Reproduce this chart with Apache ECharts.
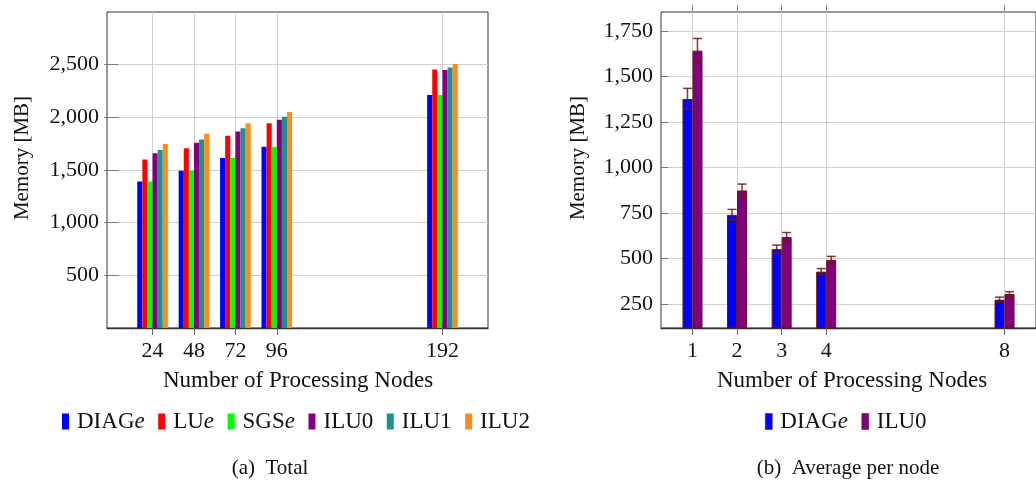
<!DOCTYPE html>
<html>
<head>
<meta charset="utf-8">
<script src="https://cdn.jsdelivr.net/npm/echarts@6/dist/echarts.min.js"></script>
<style>
html,body{margin:0;padding:0;background:#fff;}
#c{width:1036px;height:488px;}
</style>
</head>
<body>
<div id="c"></div>
<script>
// ---- data (a) Total ----
const nodes = [24, 48, 72, 96, 192];
const seriesNames = ['DIAGe', 'LUe', 'SGSe', 'ILU0', 'ILU1', 'ILU2'];
const diagE = [1390, 1494, 1615, 1720, 2211];
const luE   = [1599, 1707, 1826, 1945, 2454];
const sgsE  = [1390, 1494, 1615, 1720, 2211];
const ilu0  = [1660, 1758, 1865, 1977, 2449];
const ilu1  = [1691, 1789, 1897, 2005, 2473];
const ilu2  = [1748, 1843, 1945, 2050, 2506];
const totalTicks = [500, 1000, 1500, 2000, 2500];

// ---- data (b) Average per node ----
const avgNodes = [1, 2, 3, 4, 8];
const avgDiagE = [1377, 740, 552, 428, 274];
const avgDiagEErr = [58, 30, 22, 17, 14];
const avgIlu0 = [1642, 874, 618, 492, 305];
const avgIlu0Err = [67, 35, 25, 20, 13];
const avgTicks = [250, 500, 750, 1000, 1250, 1500, 1750];

// ---- styles ----
const FONT = 'Liberation Serif';
const colors = ['#0000ff', '#ff0000', '#00ff00', '#800080', '#208f8f', '#ff8c1a'];
const totalValues = [diagE, luE, sgsE, ilu0, ilu1, ilu2];
const gridColor = '#cfcfcf';
const frameColor = '#333';
const errColor = '#6e1414';

const fmt = v => String(v).replace(/\B(?=(\d{3})+(?!\d))/g, ',');

function legendFormatter(name) {
  const n = name.trim();
  if (n.endsWith('e')) return '{n|' + n.slice(0, -1) + '}{i|e}';
  return '{n|' + n + '}';
}
const legendText = {
  color: '#111', fontFamily: FONT, fontSize: 23, padding: [0, 0, 0, 3],
  rich: {
    n: {fontFamily: FONT, fontSize: 23, color: '#111'},
    i: {fontFamily: FONT, fontSize: 23, fontStyle: 'italic', color: '#111'}
  }
};

function bottomX(gridIndex, min, max, ticks) {
  return {
    type: 'value', gridIndex, min, max, position: 'bottom',
    axisLine: {show: true, onZero: false, lineStyle: {color: frameColor, width: 1.3}},
    axisTick: {show: true, inside: false, length: 7, customValues: ticks, lineStyle: {color: '#666'}},
    axisLabel: {show: true, customValues: ticks, margin: 12, color: '#111', fontFamily: FONT, fontSize: 22},
    splitLine: {show: true, lineStyle: {color: gridColor, width: 1}}
  };
}
function topX(gridIndex, min, max, ticks) {
  return {
    type: 'value', gridIndex, min, max, position: 'top',
    axisLine: {show: false},
    axisTick: {show: true, inside: false, length: 7, customValues: ticks, lineStyle: {color: '#888'}},
    axisLabel: {show: false},
    splitLine: {show: false}
  };
}
function leftY(gridIndex, min, max, ticks) {
  return {
    type: 'value', gridIndex, min, max, position: 'left',
    axisLine: {show: false},
    axisTick: {show: true, inside: true, length: 7, customValues: ticks, lineStyle: {color: '#777'}},
    axisLabel: {show: true, customValues: ticks, margin: 8, color: '#111', fontFamily: FONT, fontSize: 22,
      formatter: v => fmt(v)},
    splitLine: {show: true, lineStyle: {color: gridColor, width: 1}}
  };
}

const series = [];
seriesNames.forEach((name, i) => {
  series.push({
    name, type: 'bar', xAxisIndex: 0, yAxisIndex: 0,
    barWidth: 5.1, barGap: '0%',
    itemStyle: {color: colors[i]},
    data: nodes.map((x, k) => [x, totalValues[i][k]])
  });
});

const avgSets = [
  {name: 'DIAGe ', vals: avgDiagE, err: avgDiagEErr, color: '#0000ff', off: -5},
  {name: 'ILU0 ', vals: avgIlu0, err: avgIlu0Err, color: '#800080', off: 5}
];
avgSets.forEach(s => {
  series.push({
    name: s.name, type: 'bar', xAxisIndex: 2, yAxisIndex: 2,
    barWidth: 10, barGap: '0%',
    itemStyle: {color: s.color, borderColor: '#6b1010', borderWidth: 1},
    data: avgNodes.map((x, k) => [x, s.vals[k]])
  });
});
avgSets.forEach(s => {
  series.push({
    type: 'custom', xAxisIndex: 2, yAxisIndex: 2, z: 5, silent: true,
    renderItem: (params, api) => {
      const x = api.value(0), lo = api.value(1), hi = api.value(2);
      const pLo = api.coord([x, lo]);
      const pHi = api.coord([x, hi]);
      const cx = pLo[0] + s.off;
      const st = {stroke: errColor, lineWidth: 1.5, opacity: 0.85};
      return {type: 'group', children: [
        {type: 'line', shape: {x1: cx, y1: pHi[1], x2: cx, y2: pLo[1]}, style: st},
        {type: 'line', shape: {x1: cx - 4.5, y1: pHi[1], x2: cx + 4.5, y2: pHi[1]}, style: st},
        {type: 'line', shape: {x1: cx - 4.5, y1: pLo[1], x2: cx + 4.5, y2: pLo[1]}, style: st}
      ]};
    },
    data: avgNodes.map((x, k) => [x, s.vals[k] - s.err[k], s.vals[k] + s.err[k]])
  });
});

const option = {
  backgroundColor: '#fff',
  animation: false,
  grid: [
    {left: 107, top: 12, width: 381, height: 316, show: true, borderColor: frameColor, borderWidth: 1, backgroundColor: 'transparent'},
    {left: 661, top: 12, width: 382, height: 316, show: true, borderColor: frameColor, borderWidth: 1, backgroundColor: 'transparent'}
  ],
  xAxis: [
    bottomX(0, -2.4, 218.4, nodes),
    topX(0, -2.4, 218.4, nodes),
    bottomX(1, 0.294, 8.706, avgNodes),
    topX(1, 0.294, 8.706, avgNodes)
  ],
  yAxis: [
    leftY(0, 0, 3000, totalTicks),
    {type: 'value', gridIndex: 0, min: 0, max: 3000, position: 'right',
      axisLine: {show: false}, axisLabel: {show: false}, splitLine: {show: false},
      axisTick: {show: true, inside: true, length: 7, customValues: totalTicks, lineStyle: {color: '#777'}}},
    leftY(1, 118.5, 1854.5, avgTicks)
  ],
  legend: [
    {data: seriesNames, left: 62, top: 410, padding: 0, itemGap: 13.5, itemWidth: 7, itemHeight: 16,
      icon: 'rect', selectedMode: false, formatter: legendFormatter, textStyle: legendText},
    {data: [
        {name: 'DIAGe ', itemStyle: {color: '#0000ff', borderColor: '#7a2020', borderWidth: 0.6}},
        {name: 'ILU0 ', itemStyle: {color: '#800080', borderColor: '#7a2020', borderWidth: 0.6}}
      ], left: 765, top: 410, padding: 0, itemGap: 13.5, itemWidth: 7, itemHeight: 16,
      icon: 'rect', selectedMode: false, formatter: legendFormatter, textStyle: legendText}
  ],
  graphic: [
    {type: 'text', x: 22, y: 158, rotation: Math.PI / 2,
      style: {text: 'Memory [MB]', fill: '#111', font: '21px "' + FONT + '"', textAlign: 'center', textVerticalAlign: 'middle'}},
    {type: 'text', x: 578, y: 158, rotation: Math.PI / 2,
      style: {text: 'Memory [MB]', fill: '#111', font: '21px "' + FONT + '"', textAlign: 'center', textVerticalAlign: 'middle'}},
    {type: 'text', x: 298, y: 381,
      style: {text: 'Number of Processing Nodes', fill: '#111', font: '23px "' + FONT + '"', textAlign: 'center', textVerticalAlign: 'middle'}},
    {type: 'text', x: 852, y: 381,
      style: {text: 'Number of Processing Nodes', fill: '#111', font: '23px "' + FONT + '"', textAlign: 'center', textVerticalAlign: 'middle'}},
    {type: 'text', x: 270, y: 468,
      style: {text: '(a)  Total', fill: '#111', font: '21px "' + FONT + '"', textAlign: 'center', textVerticalAlign: 'middle'}},
    {type: 'text', x: 848, y: 468,
      style: {text: '(b)  Average per node', fill: '#111', font: '21px "' + FONT + '"', textAlign: 'center', textVerticalAlign: 'middle'}}
  ],
  series
};

const chart = echarts.init(document.getElementById('c'), null, {renderer: 'canvas'});
chart.setOption(option);
</script>
</body>
</html>
